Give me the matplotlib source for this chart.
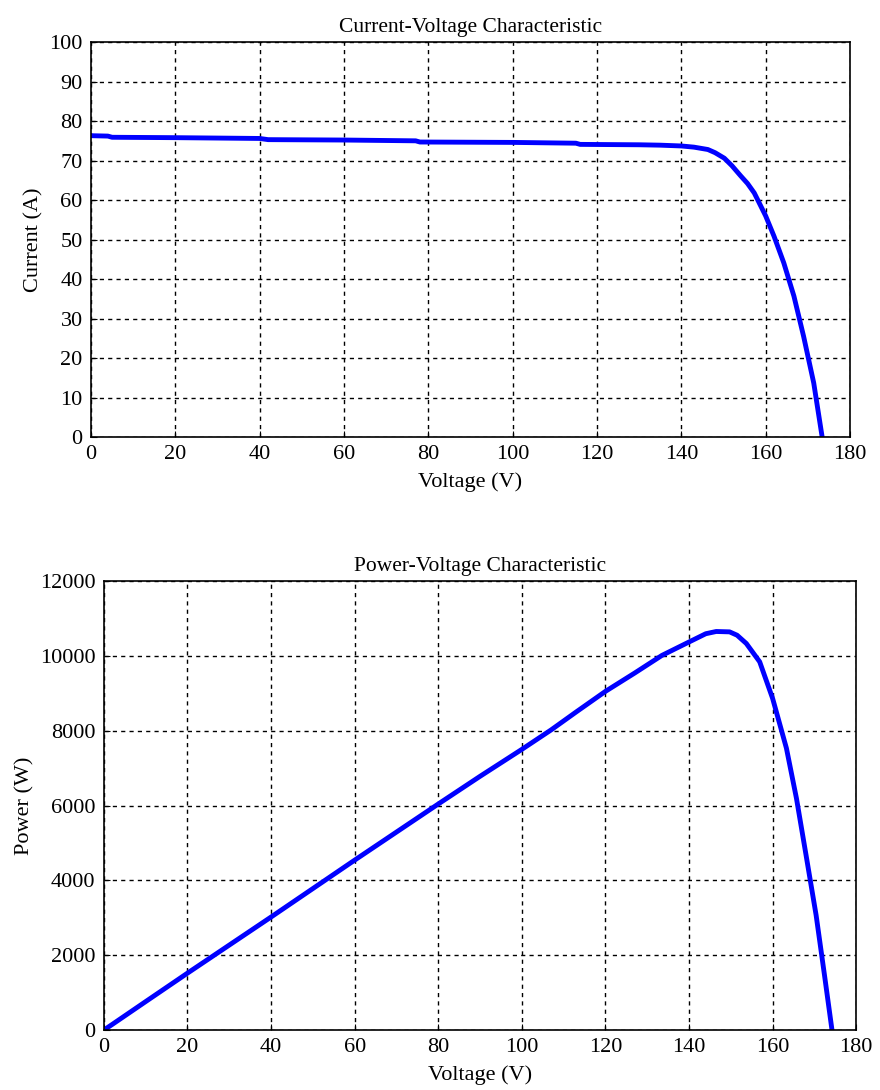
import matplotlib.pyplot as plt

plt.rcParams['font.family'] = ['Liberation Serif', 'DejaVu Serif']

# current-voltage curve
volt_i = [0, 4, 5, 20, 40, 42, 60, 77, 78, 100, 115, 116, 130, 135, 140, 143,
          146.3, 148, 150.2, 152, 154.1, 155.7, 157.3, 160, 162, 164.3, 166.7,
          169, 171.4, 173.4]
current = [76.3, 76.2, 75.9, 75.8, 75.6, 75.3, 75.2, 75.0, 74.7, 74.6, 74.4, 74.1,
           74.0, 73.9, 73.7, 73.4, 72.8, 72.0, 70.6, 68.7, 66.1, 64.2, 61.8, 56.0,
           50.8, 44.1, 35.7, 25.5, 13.7, 0]

# power-voltage curve
volt_p = [0, 2, 10, 20, 30, 40, 50, 60, 70, 80, 90, 100, 107, 113, 120, 127, 133.5,
          140, 144, 146.5, 149.7, 151.5, 153.7, 156.9, 160, 163.3, 165.7, 168, 170.4,
          172.4, 174.2]
power = [0, 150, 760, 1520, 2270, 3020, 3780, 4540, 5290, 6040, 6780, 7500, 8020,
         8500, 9050, 9540, 10010, 10370, 10590, 10650, 10640, 10550, 10330, 9840, 8860,
         7530, 6190, 4670, 3070, 1470, 0]

x_ticks = list(range(0, 181, 20))
i_ticks = list(range(0, 101, 10))
p_ticks = list(range(0, 12001, 2000))

fig = plt.figure(figsize=(8.8, 10.9), dpi=100)
ax1 = fig.add_axes([0.1034, 0.599, 0.8625, 0.3624])
ax2 = fig.add_axes([0.118, 0.055, 0.855, 0.412])


def style(ax, yt, title, ylabel):
    ax.set_xlim(0, 180)
    ax.set_ylim(yt[0], yt[-1])
    ax.set_xticks(x_ticks)
    ax.set_yticks(yt)
    ax.grid(True, color='black', linestyle=(0, (3, 3)), linewidth=1.0)
    ax.tick_params(direction='in', length=4, labelsize=16, pad=6)
    for s in ax.spines.values():
        s.set_linewidth(1.2)
    ax.set_title(title, fontsize=15.5, pad=7)
    ax.set_xlabel('Voltage (V)', fontsize=16, labelpad=6)
    ax.set_ylabel(ylabel, fontsize=16, labelpad=4)


ax1.plot(volt_i, current, color='#0000ff', linewidth=3.5)
style(ax1, i_ticks, 'Current-Voltage Characteristic', 'Current (A)')

ax2.plot(volt_p, power, color='#0000ff', linewidth=3.5)
style(ax2, p_ticks, 'Power-Voltage Characteristic', 'Power (W)')

fig.savefig('out.png', dpi=100)
